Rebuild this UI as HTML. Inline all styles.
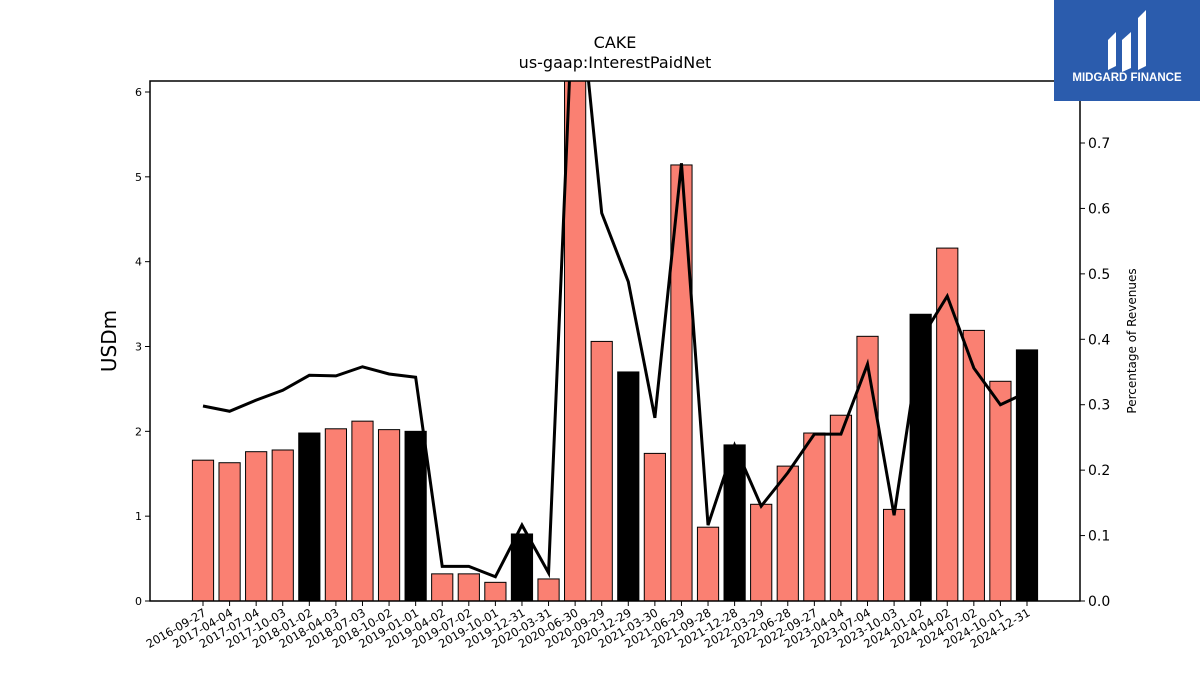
<!DOCTYPE html>
<html><head><meta charset="utf-8"><style>
body{margin:0;background:#fff;width:1200px;height:675px;overflow:hidden;font-family:"Liberation Sans","DejaVu Sans",sans-serif}
</style></head><body>
<svg id="chart" width="1200" height="675" font-family="DejaVu Sans, Liberation Sans, sans-serif">
<text x="615" y="48" text-anchor="middle" font-size="16">CAKE</text>
<text x="615" y="68" text-anchor="middle" font-size="16">us-gaap:InterestPaidNet</text>
<g id="marks"></g>
<rect x="150" y="81" width="930" height="520" fill="none" stroke="#000" stroke-width="1.5"/>
<g id="axes"></g>
<text transform="translate(116,341) rotate(-90)" text-anchor="middle" font-size="20">USDm</text>
<text transform="translate(1136,341) rotate(-90)" text-anchor="middle" font-size="12">Percentage of Revenues</text>
<g>
<rect x="1054" y="0" width="146" height="101" fill="#2b5cad"/>
<path d="M1108 40 L1116 32 L1116 66 L1108 70 Z M1122 40 L1131 32 L1131 68 L1122 72 Z M1138 18 L1146 10 L1146 66 L1138 70 Z" fill="#fff"/>
<text x="1127" y="81" text-anchor="middle" font-size="11.5" font-weight="bold" fill="#fff" font-family="Liberation Sans, sans-serif">MIDGARD FINANCE</text>
</g>
</svg>
<script>
const categories=["2016-09-27","2017-04-04","2017-07-04","2017-10-03","2018-01-02","2018-04-03","2018-07-03","2018-10-02","2019-01-01","2019-04-02","2019-07-02","2019-10-01","2019-12-31","2020-03-31","2020-06-30","2020-09-29","2020-12-29","2021-03-30","2021-06-29","2021-09-28","2021-12-28","2022-03-29","2022-06-28","2022-09-27","2023-04-04","2023-07-04","2023-10-03","2024-01-02","2024-04-02","2024-07-02","2024-10-01","2024-12-31"];
const interestPaid=[1.66,1.63,1.76,1.78,1.98,2.03,2.12,2.02,2.00,0.32,0.32,0.22,0.79,0.26,7.0,3.06,2.70,1.74,5.14,0.87,1.84,1.14,1.59,1.98,2.19,3.12,1.08,3.38,4.16,3.19,2.59,2.96];
const isFiscalYearEnd=[0,0,0,0,1,0,0,0,1,0,0,0,1,0,0,0,1,0,0,0,1,0,0,0,0,0,0,1,0,0,0,1];
const pctRevenue=[0.298,0.290,0.307,0.322,0.345,0.344,0.358,0.347,0.342,0.053,0.053,0.037,0.116,0.043,1.0,0.593,0.488,0.280,0.669,0.116,0.238,0.145,0.196,0.255,0.255,0.362,0.131,0.40,0.466,0.356,0.300,0.319];
const leftTicks=[0,1,2,3,4,5,6];
const rightTicks=[0.0,0.1,0.2,0.3,0.4,0.5,0.6,0.7];
const NS="http://www.w3.org/2000/svg";
const L=150,R=1080,T=81,B=601;
const x=i=>203+i*(1027-203)/(categories.length-1);
const yL=v=>B-v*(B-92)/6;
const yR=v=>B-v*(B-143)/0.7;
const marks=document.getElementById('marks'),axes=document.getElementById('axes');
function mk(tag,attrs,parent){const e=document.createElementNS(NS,tag);for(const k in attrs)e.setAttribute(k,attrs[k]);parent.appendChild(e);return e;}
const clip=mk('clipPath',{id:'pc'},document.getElementById('chart'));
mk('rect',{x:L,y:T,width:R-L,height:B-T},clip);
const g=mk('g',{'clip-path':'url(#pc)'},marks);
const bw=21.2;
interestPaid.forEach((v,i)=>{
 const r=mk('rect',{x:x(i)-bw/2,y:yL(v),width:bw,height:B-yL(v),fill:isFiscalYearEnd[i]?'#000':'#fa8072',stroke:'#000','stroke-width':1},g);
 
 
});
const pl=mk('polyline',{points:pctRevenue.map((v,i)=>x(i)+','+yR(v)).join(' '),fill:'none',stroke:'#000','stroke-width':3},g);


leftTicks.forEach(v=>{
 mk('line',{x1:L-5,x2:L,y1:yL(v),y2:yL(v),stroke:'#000'},axes);
 const t=mk('text',{x:L-8,y:yL(v)+4,'text-anchor':'end','font-size':11},axes);t.textContent=v;
 
 
});
rightTicks.forEach(v=>{
 mk('line',{x1:R,x2:R+5,y1:yR(v),y2:yR(v),stroke:'#000'},axes);
 const t=mk('text',{x:R+8,y:yR(v)+5,'font-size':14},axes);t.textContent=v.toFixed(1);
 
 
});
categories.forEach((c,i)=>{
 mk('line',{x1:x(i),x2:x(i),y1:B,y2:B+5,stroke:'#000'},axes);
 const t=mk('text',{transform:`translate(${x(i)+4},${B+14}) rotate(-30)`,'text-anchor':'end','font-size':11.5},axes);t.textContent=c;
 
 
});
</script>
</body></html>
